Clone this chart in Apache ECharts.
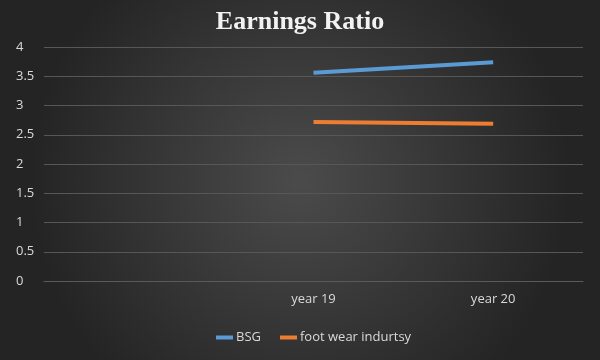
<!DOCTYPE html>
<html><head><meta charset="utf-8">
<script src="https://cdn.jsdelivr.net/npm/echarts@6/dist/echarts.min.js"></script>
<style>html,body{margin:0;padding:0;}#c{width:600px;height:360px;}</style>
</head><body><div id="c"></div>
<script>
const categories = ["", "year 19", "year 20"];
const bsg = [null, 3.56, 3.74];
const footwear = [null, 2.72, 2.69];
const yTicks = { min: 0, max: 4, interval: 0.5 };

const chart = echarts.init(document.getElementById('c'));
const lbl = '#d9d9d9';
chart.setOption({
  backgroundColor: {
    type: 'radial', x: 0.5, y: 0.5, r: 0.75,
    colorStops: [{offset: 0, color: '#4b4b4b'}, {offset: 1, color: '#242424'}]
  },
  animation: false,
  title: {
    text: 'Earnings Ratio', left: 'center', top: 4,
    textStyle: { fontFamily: 'Liberation Serif', fontWeight: 'bold', fontSize: 26, color: '#f2f2f2' }
  },
  legend: {
    bottom: 11, left: 211, itemWidth: 17, itemHeight: 4, itemGap: 19,
    icon: 'rect',
    textStyle: { color: lbl, fontFamily: 'Open Sans', fontSize: 13, padding: [0, 0, 0, -2] },
    data: ['BSG', 'foot wear indurtsy']
  },
  grid: { left: 44, right: 17, top: 47, bottom: 79, containLabel: false },
  xAxis: {
    type: 'category', data: categories, boundaryGap: true,
    axisLine: { show: true, lineStyle: { color: '#5a5a5a' } },
    axisTick: { show: false },
    axisLabel: { color: lbl, fontFamily: 'Open Sans', fontSize: 13, margin: 12 }
  },
  yAxis: {
    type: 'value', min: yTicks.min, max: yTicks.max, interval: yTicks.interval,
    axisLine: { show: false }, axisTick: { show: false },
    splitLine: { lineStyle: { color: '#575757', width: 1 } },
    axisLabel: { color: lbl, fontFamily: 'Open Sans', fontSize: 13, align: 'left', margin: 28 }
  },
  series: [
    { name: 'BSG', type: 'line', data: bsg, showSymbol: false, lineStyle: { color: '#5b9bd5', width: 4 }, itemStyle: { color: '#5b9bd5' } },
    { name: 'foot wear indurtsy', type: 'line', data: footwear, showSymbol: false, lineStyle: { color: '#ed7d31', width: 4 }, itemStyle: { color: '#ed7d31' } }
  ]
});
</script></body></html>
